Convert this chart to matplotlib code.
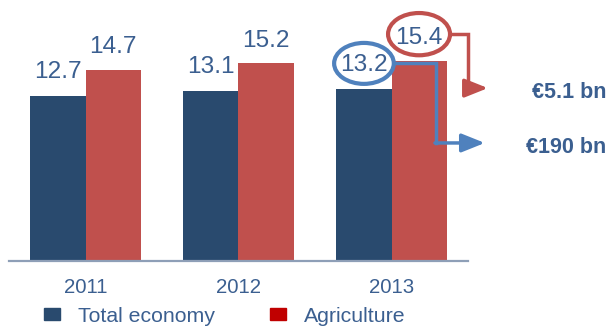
import matplotlib.pyplot as plt
import numpy as np
from matplotlib.patches import Ellipse, Patch

plt.rcParams['font.family'] = ['Liberation Sans', 'DejaVu Sans']

years = ['2011', '2012', '2013']
total_economy = [12.7, 13.1, 13.2]
agriculture = [14.7, 15.2, 15.4]
callout_labels = ['\u20ac5.1 bn', '\u20ac190 bn']

col_total = '#294A6E'
col_agri = '#C0504D'
col_text = '#3B5F90'
col_ring_blue = '#4F81BD'
col_ring_red = '#C0504D'

fig = plt.figure(figsize=(6.08, 3.28), dpi=100)
ax = fig.add_axes([9 / 608, 67 / 328, 459 / 608, 260 / 328])

index = np.arange(len(years))
bar_width = 0.36
ax.bar(index - bar_width / 2, total_economy, bar_width, color=col_total)
ax.bar(index + bar_width / 2, agriculture, bar_width, color=col_agri)

for i in range(len(years)):
    ax.annotate('%.1f' % total_economy[i], (index[i] - bar_width / 2, total_economy[i]),
                xytext=(0, 13), textcoords='offset points', ha='center', va='baseline',
                fontsize=17.6, color=col_text)
    ax.annotate('%.1f' % agriculture[i], (index[i] + bar_width / 2, agriculture[i]),
                xytext=(0, 12), textcoords='offset points', ha='center', va='baseline',
                fontsize=17.6, color=col_text)

ax.set_xlim(-0.5, 2.5)
ax.set_ylim(0, 20)
ax.set_xticks(index)
ax.set_xticklabels(years, fontsize=14.7, color=col_text)
ax.tick_params(axis='x', length=0, pad=12)
ax.set_yticks([])
for side in ['left', 'right', 'top']:
    ax.spines[side].set_visible(False)
ax.spines['bottom'].set_color('#8E9FB7')
ax.spines['bottom'].set_linewidth(1.6)

# rings around the 2013 labels
last = len(years) - 1
bx, by = index[last] - bar_width / 2, total_economy[last] + 2.0
rx, ry = index[last] + bar_width / 2, agriculture[last] + 2.05
ax.add_patch(Ellipse((bx, by), 0.39, 3.15, fill=False, lw=3, ec=col_ring_blue, clip_on=False))
ax.add_patch(Ellipse((rx, ry), 0.405, 3.25, fill=False, lw=3, ec=col_ring_red, clip_on=False))

# red connector -> agriculture value
red_x = 2.497
red_y = 13.3
ax.plot([rx + 0.2025, red_x, red_x], [ry, ry, red_y], color=col_ring_red, lw=2.5,
        clip_on=False, solid_joinstyle='miter')
ax.annotate('', xy=(2.63, red_y), xytext=(red_x - 0.01, red_y),
            arrowprops=dict(arrowstyle='-|>,head_length=0.7,head_width=0.28', lw=2.5,
                            color=col_ring_red, shrinkA=0, shrinkB=0, mutation_scale=20),
            annotation_clip=False)

# blue connector -> total economy value
blue_x = 2.294
blue_y = 9.08
ax.plot([bx + 0.195, blue_x, blue_x], [by, by, blue_y], color=col_ring_blue, lw=2.5,
        clip_on=False, solid_joinstyle='miter')
ax.annotate('', xy=(2.61, blue_y), xytext=(blue_x - 0.01, blue_y),
            arrowprops=dict(arrowstyle='-|>,head_length=0.7,head_width=0.28', lw=2.5,
                            color=col_ring_blue, shrinkA=0, shrinkB=0, mutation_scale=20),
            annotation_clip=False)

ax.text(3.405, 12.55, callout_labels[0], ha='right', va='baseline', fontsize=15.5,
        fontweight='bold', color=col_text, clip_on=False)
ax.text(3.405, 8.3, callout_labels[1], ha='right', va='baseline', fontsize=15.5,
        fontweight='bold', color=col_text, clip_on=False)

handles = [Patch(color=col_total, label='Total economy'),
           Patch(color='#C00000', label='Agriculture')]
fig.legend(handles=handles, loc='center left', bbox_to_anchor=(44 / 608, 12 / 328),
           ncol=2, frameon=False, fontsize=15.3, labelcolor=col_text,
           handlelength=0.75, handleheight=0.47, handletextpad=0.85,
           columnspacing=2.6, borderpad=0, borderaxespad=0)

plt.savefig('out.png', dpi=100)
